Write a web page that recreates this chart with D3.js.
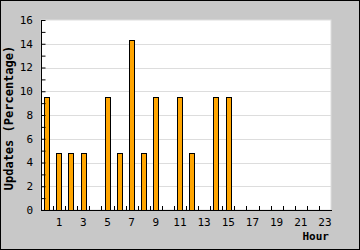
<!DOCTYPE html>
<html>
<head>
<meta charset="utf-8">
<script src="https://cdn.jsdelivr.net/npm/d3@7"></script>
<style>
  body { margin: 0; }
  svg { display: block; }
  text { font-family: "DejaVu Sans Mono", monospace; font-size: 11px; fill: #000; }
  .title { font-weight: bold; }
</style>
</head>
<body>
<svg width="360" height="250"></svg>
<script>
let hours = d3.range(24);
let updates = [9.52, 4.76, 4.76, 4.76, 0, 9.52, 4.76, 14.29, 4.76, 9.52, 0, 9.52,
               4.76, 0, 9.52, 9.52, 0, 0, 0, 0, 0, 0, 0, 0];
let yTicks = [0, 2, 4, 6, 8, 10, 12, 14, 16];

var svg = d3.select("svg"),
    width = +svg.attr("width"),
    height = +svg.attr("height");

let plotL = 41, plotR = 331, plotT = 20, plotB = 210;

// background + frame
svg.append("rect")
    .attr("x", 0.5).attr("y", 0.5)
    .attr("width", width - 1).attr("height", height - 1)
    .attr("fill", "#c8c8c8")
    .attr("stroke", "#000");

svg.append("rect")
    .attr("x", plotL).attr("y", plotT)
    .attr("width", plotR - plotL).attr("height", plotB - plotT)
    .attr("fill", "#fff")
    .attr("stroke", "#ddd");

let x = d3.scaleBand().domain(hours).range([plotL, plotR]);
let y = d3.scaleLinear().domain([0, 16]).range([plotB, plotT]);

// grid lines
svg.append("g")
    .selectAll("line")
    .data(yTicks.slice(1, -1))
    .enter().append("line")
    .attr("x1", plotL).attr("x2", plotR)
    .attr("y1", d => Math.round(y(d)) + 0.5)
    .attr("y2", d => Math.round(y(d)) + 0.5)
    .attr("stroke", "#ddd");

// bars
svg.append("g")
    .selectAll("rect")
    .data(hours.filter(h => updates[h] > 0))
    .enter().append("rect")
    .attr("x", h => Math.round(x(h) + x.bandwidth() * 0.27) + 0.5)
    .attr("width", Math.round(x.bandwidth() * 0.45))
    .attr("y", h => Math.round(y(updates[h])) + 0.5)
    .attr("height", h => Math.round(y(0)) - Math.round(y(updates[h])))
    .attr("fill", "#ffa500")
    .attr("stroke", "#000");

// y axis
let yAxis = svg.append("g")
    .attr("transform", "translate(" + (plotL + 0.5) + ",0)")
    .call(d3.axisRight(y).ticks(16).tickSize(4).tickFormat(""));
yAxis.select(".domain").attr("d", "M0," + plotT + "V" + plotB);

svg.append("g")
    .selectAll("text")
    .data(yTicks)
    .enter().append("text")
    .attr("x", plotL - 8)
    .attr("y", d => y(d))
    .attr("dy", "0.35em")
    .attr("text-anchor", "end")
    .text(d => d);

// x axis ticks at band boundaries
let xEdges = d3.range(1, 24).map(i => plotL + i * x.bandwidth());
svg.append("g")
    .selectAll("line")
    .data(xEdges)
    .enter().append("line")
    .attr("x1", d => Math.round(d) + 0.5).attr("x2", d => Math.round(d) + 0.5)
    .attr("y1", plotB - 4).attr("y2", plotB)
    .attr("stroke", "#000");

svg.append("line")
    .attr("x1", plotL).attr("x2", plotR + 1)
    .attr("y1", plotB + 0.5).attr("y2", plotB + 0.5)
    .attr("stroke", "#000");

svg.append("g")
    .selectAll("text")
    .data(hours.filter(h => h % 2 === 1))
    .enter().append("text")
    .attr("x", h => x(h) + x.bandwidth() / 2)
    .attr("y", 222)
    .attr("dy", "0.35em")
    .attr("text-anchor", "middle")
    .text(h => h);

// titles
svg.append("text")
    .attr("class", "title")
    .attr("x", 329).attr("y", 236)
    .attr("dy", "0.35em")
    .attr("text-anchor", "end")
    .text("Hour");

svg.append("text")
    .attr("class", "title")
    .attr("transform", "translate(9,118) rotate(-90)")
    .attr("dy", "0.35em")
    .attr("text-anchor", "middle")
    .style("font-size", "12px")
    .text("Updates (Percentage)");
</script>
</body>
</html>
